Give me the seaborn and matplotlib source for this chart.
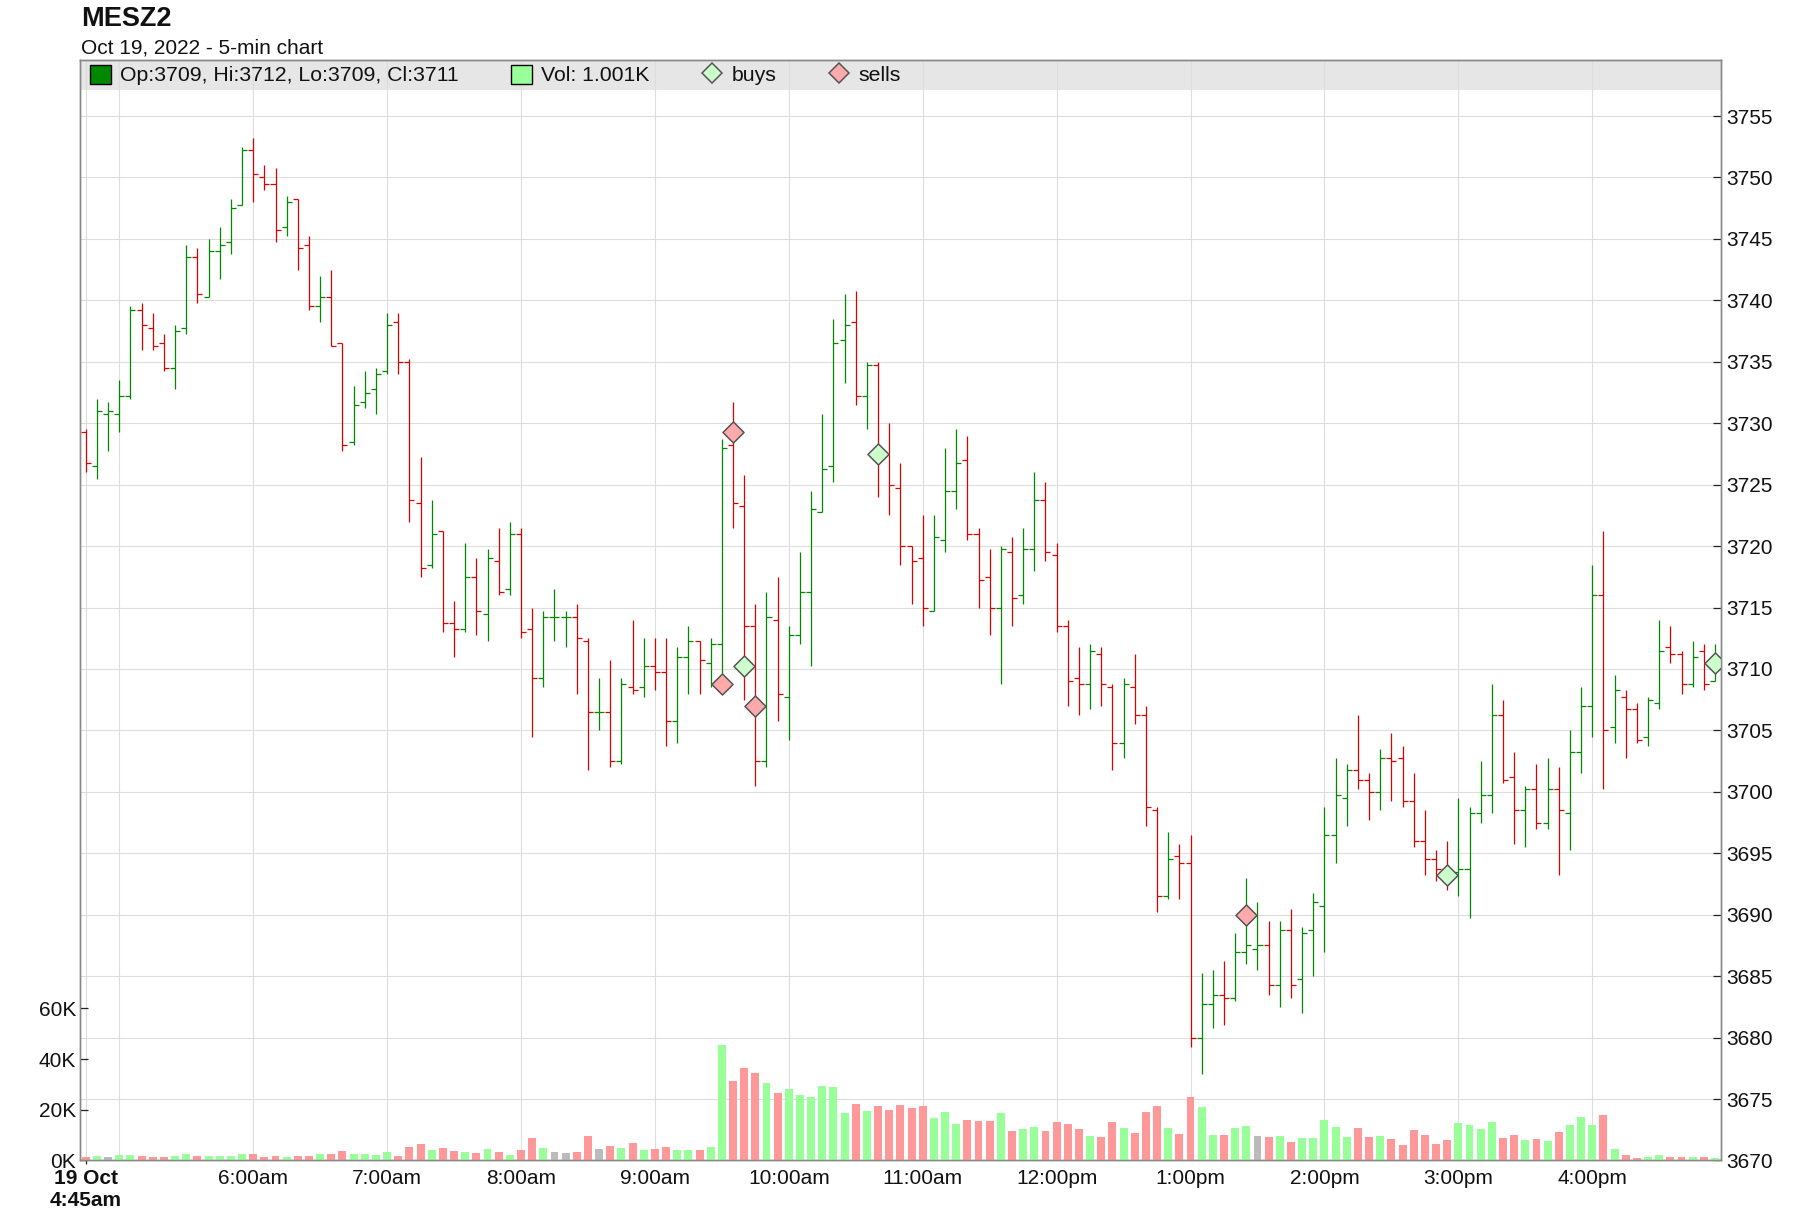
import numpy as np
import pandas as pd
import matplotlib
matplotlib.use('Agg')
import matplotlib.pyplot as plt
from matplotlib.patches import Rectangle, Patch
from matplotlib.lines import Line2D
import seaborn as sns

# chart text
symbol = 'MESZ2'
subtitle = 'Oct 19, 2022 - 5-min chart'
first_label = '19 Oct\n4:45am'

# 5-min OHLC bars, 4:45am .. 4:55pm
opens = [
    3729.25, 3726.5, 3730.75, 3730.75, 3732.25, 3739.25, 3737.75, 3736.5, 3734.5, 3737.75,
    3743.5, 3740.25, 3744.0, 3744.75, 3747.75, 3752.25, 3750.0, 3749.5, 3746.0, 3748.25,
    3744.5, 3739.5, 3740.25, 3736.5, 3728.5, 3731.75, 3732.75, 3734.25, 3738.25, 3735.0,
    3723.5, 3718.5, 3721.25, 3713.75, 3713.25, 3717.5, 3714.5, 3718.75, 3716.5, 3721.0,
    3713.25, 3709.25, 3714.25, 3714.25, 3714.25, 3712.25, 3706.5, 3706.5, 3702.5, 3708.5,
    3708.5, 3710.25, 3709.75, 3705.75, 3711.0, 3712.25, 3710.5, 3712.0, 3728.25, 3723.25,
    3713.5, 3702.5, 3714.0, 3707.75, 3712.75, 3716.25, 3722.75, 3726.5, 3736.75, 3738.25,
    3732.25, 3734.75, 3727.5, 3724.75, 3720.0, 3719.0, 3714.75, 3720.5, 3724.5, 3727.0,
    3721.0, 3717.5, 3715.0, 3719.5, 3716.0, 3719.75, 3723.75, 3719.25, 3713.5, 3709.25,
    3708.75, 3711.25, 3708.5, 3704.0, 3708.5, 3706.25, 3698.5, 3691.5, 3694.75, 3694.25,
    3680.0, 3682.75, 3683.5, 3683.25, 3687.0, 3687.25, 3687.5, 3684.25, 3688.75, 3684.75,
    3688.75, 3690.75, 3696.5, 3699.5, 3701.75, 3701.0, 3700.0, 3702.75, 3702.75, 3699.25,
    3696.0, 3694.5, 3693.75, 3693.5, 3693.75, 3698.25, 3699.75, 3706.25, 3701.25, 3698.5,
    3700.25, 3697.5, 3700.25, 3698.25, 3703.25, 3707.0, 3716.0, 3705.25, 3707.75, 3706.75,
    3704.5, 3707.25, 3711.75, 3711.25, 3708.75, 3711.5, 3709.0]
highs = [
    3729.5, 3732.0, 3731.75, 3733.5, 3739.5, 3739.75, 3739.0, 3737.25, 3738.0, 3744.5,
    3744.25, 3745.0, 3746.0, 3748.25, 3752.5, 3753.25, 3751.0, 3750.75, 3748.5, 3748.25,
    3745.25, 3742.0, 3742.5, 3736.5, 3733.0, 3734.25, 3734.5, 3739.0, 3739.0, 3735.25,
    3727.25, 3723.75, 3721.25, 3715.5, 3720.25, 3719.0, 3719.75, 3721.5, 3722.0, 3721.5,
    3715.0, 3714.75, 3716.5, 3714.75, 3715.25, 3712.5, 3709.25, 3710.75, 3709.25, 3714.0,
    3712.5, 3712.5, 3712.5, 3711.75, 3713.5, 3712.25, 3712.5, 3728.75, 3731.75, 3725.75,
    3715.25, 3716.25, 3717.5, 3713.5, 3719.5, 3724.5, 3730.75, 3738.5, 3740.5, 3740.75,
    3735.0, 3735.0, 3730.0, 3726.75, 3720.0, 3722.5, 3722.5, 3728.0, 3729.5, 3729.0,
    3721.5, 3719.75, 3720.0, 3720.75, 3721.5, 3726.0, 3725.25, 3720.25, 3714.0, 3711.75,
    3712.0, 3711.75, 3708.75, 3709.25, 3711.25, 3707.0, 3698.75, 3696.75, 3695.75, 3696.5,
    3685.25, 3685.5, 3686.25, 3688.5, 3693.0, 3691.0, 3689.5, 3689.5, 3690.5, 3689.0,
    3691.75, 3698.75, 3702.75, 3702.25, 3706.25, 3701.5, 3703.5, 3704.75, 3703.75, 3701.5,
    3698.5, 3695.25, 3696.0, 3699.5, 3698.75, 3702.5, 3708.75, 3707.5, 3703.25, 3700.5,
    3702.25, 3702.75, 3702.0, 3705.0, 3708.5, 3718.5, 3721.25, 3709.5, 3708.25, 3707.25,
    3707.75, 3714.0, 3713.5, 3711.5, 3712.25, 3712.0, 3712.0]
lows = [
    3726.0, 3725.5, 3727.75, 3729.25, 3732.0, 3736.0, 3736.0, 3734.25, 3732.75, 3737.25,
    3739.75, 3740.25, 3741.75, 3743.75, 3747.75, 3748.0, 3749.0, 3744.75, 3745.25, 3742.5,
    3739.25, 3738.25, 3736.25, 3727.75, 3728.25, 3731.25, 3730.75, 3734.0, 3734.0, 3722.0,
    3717.5, 3718.25, 3713.0, 3711.0, 3713.0, 3712.75, 3712.25, 3716.0, 3716.0, 3712.5,
    3704.5, 3708.5, 3712.25, 3711.75, 3708.0, 3701.75, 3705.0, 3702.0, 3702.25, 3708.0,
    3707.75, 3708.25, 3703.75, 3704.0, 3708.0, 3708.0, 3708.5, 3709.0, 3721.5, 3707.5,
    3700.5, 3702.0, 3705.75, 3704.25, 3712.0, 3710.25, 3722.75, 3725.25, 3733.25, 3731.5,
    3729.5, 3724.0, 3722.5, 3718.5, 3715.25, 3713.5, 3714.75, 3719.5, 3723.0, 3720.5,
    3715.0, 3712.75, 3708.75, 3713.5, 3715.25, 3718.0, 3718.75, 3713.0, 3707.0, 3706.25,
    3706.75, 3707.0, 3701.75, 3702.75, 3705.5, 3697.25, 3690.25, 3691.25, 3691.25, 3679.25,
    3677.0, 3680.75, 3681.0, 3683.0, 3686.0, 3685.5, 3683.5, 3682.5, 3683.25, 3682.0,
    3685.0, 3687.0, 3694.25, 3697.25, 3700.25, 3697.75, 3698.5, 3699.25, 3698.75, 3695.5,
    3693.25, 3692.75, 3692.0, 3691.5, 3689.75, 3697.5, 3698.25, 3700.75, 3695.75, 3695.5,
    3697.0, 3697.0, 3693.25, 3695.25, 3701.5, 3704.5, 3700.25, 3704.0, 3702.75, 3704.0,
    3703.75, 3706.75, 3710.5, 3708.0, 3708.5, 3708.25, 3709.0]
closes = [
    3726.75, 3731.0, 3731.0, 3732.25, 3739.25, 3738.0, 3736.25, 3734.5, 3737.5, 3743.5,
    3740.5, 3744.0, 3744.5, 3747.5, 3752.25, 3750.25, 3749.5, 3745.75, 3748.0, 3744.25,
    3739.5, 3740.25, 3736.25, 3728.25, 3731.5, 3732.5, 3734.0, 3738.0, 3735.0, 3723.75,
    3718.25, 3721.0, 3713.75, 3713.25, 3717.5, 3714.75, 3719.0, 3716.25, 3721.0, 3713.0,
    3709.25, 3714.25, 3714.25, 3714.25, 3712.5, 3706.5, 3706.5, 3702.5, 3708.75, 3708.25,
    3710.25, 3709.75, 3705.75, 3711.0, 3712.25, 3710.75, 3712.0, 3728.0, 3723.5, 3713.5,
    3702.5, 3714.25, 3708.0, 3712.75, 3716.25, 3723.0, 3726.25, 3736.5, 3738.0, 3732.25,
    3734.75, 3727.75, 3725.0, 3720.0, 3718.75, 3715.0, 3720.75, 3724.5, 3726.75, 3721.0,
    3717.25, 3715.0, 3719.75, 3715.75, 3719.75, 3723.75, 3719.5, 3713.5, 3709.0, 3708.75,
    3711.5, 3708.75, 3704.0, 3708.75, 3706.25, 3698.75, 3691.5, 3694.5, 3694.25, 3680.0,
    3682.75, 3683.5, 3683.25, 3687.0, 3687.5, 3687.5, 3684.25, 3688.75, 3684.25, 3688.5,
    3691.0, 3696.5, 3699.75, 3701.75, 3701.0, 3700.0, 3702.75, 3702.5, 3699.25, 3696.0,
    3694.5, 3693.75, 3693.5, 3693.75, 3698.25, 3699.75, 3706.25, 3701.0, 3698.5, 3700.25,
    3697.5, 3700.25, 3698.5, 3703.25, 3707.0, 3716.0, 3705.0, 3708.25, 3706.75, 3704.25,
    3707.5, 3711.5, 3711.25, 3708.75, 3711.0, 3708.75, 3711.0]
# volume in thousands of contracts
volume_k = [
    1.2, 1.6, 1.2, 2.0, 2.0, 1.6, 1.2, 1.2, 1.6, 2.4,
    1.6, 1.6, 1.6, 1.6, 2.4, 2.4, 1.2, 1.6, 1.2, 1.6,
    1.6, 2.4, 2.4, 3.6, 2.4, 2.4, 2.0, 3.2, 1.6, 5.2,
    6.4, 4.0, 4.8, 3.6, 3.2, 2.8, 4.4, 3.2, 2.0, 4.0,
    8.8, 4.8, 3.2, 2.8, 3.2, 9.6, 4.4, 5.6, 4.8, 6.8,
    4.0, 4.4, 5.2, 4.0, 4.0, 4.0, 5.2, 45.6, 31.2, 36.4,
    34.4, 30.4, 26.8, 28.0, 26.0, 25.2, 29.2, 28.8, 18.8, 22.4,
    19.6, 21.6, 20.0, 22.0, 20.8, 21.6, 16.8, 19.2, 14.4, 16.0,
    15.6, 15.6, 18.8, 11.6, 12.4, 13.2, 11.6, 15.2, 14.4, 12.4,
    9.6, 9.2, 15.2, 12.8, 10.8, 19.2, 21.6, 12.8, 10.4, 25.2,
    21.2, 10.0, 10.0, 12.8, 13.6, 9.6, 9.2, 9.6, 7.2, 8.8,
    8.8, 16.0, 13.2, 9.2, 12.8, 9.2, 9.6, 8.4, 6.0, 12.0,
    10.0, 6.4, 8.0, 14.8, 14.0, 12.4, 15.2, 8.8, 10.0, 8.0,
    8.4, 7.6, 11.2, 14.0, 17.2, 14.0, 18.0, 4.4, 2.0, 0.8,
    1.2, 2.0, 1.2, 1.2, 1.2, 1.2, 1.001]

# trade markers (bar index, price)
buy_bars = [59, 71, 122, 146]
buy_prices = [3710.25, 3727.5, 3693.25, 3710.5]
sell_bars = [57, 58, 60, 104]
sell_prices = [3708.75, 3729.25, 3707.0, 3690.0]

hour_ticks = [5, 6, 7, 8, 9, 10, 11, 12, 13, 14, 15, 16]
hour_labels = ['', '6:00am', '7:00am', '8:00am', '9:00am', '10:00am', '11:00am',
               '12:00pm', '1:00pm', '2:00pm', '3:00pm', '4:00pm']

df = pd.DataFrame({'open': opens, 'high': highs, 'low': lows,
                   'close': closes, 'vol': volume_k})
times = pd.date_range('2022-10-19 04:45', periods=len(df), freq='5min')
df['t'] = times.hour + times.minute / 60.0

GREEN, RED = '#008800', '#dd0000'
VGREEN, VRED, VGRAY = '#99ff99', '#ff9999', '#bbbbbb'

sns.set_theme(style='white')
plt.rcParams['font.family'] = ['Liberation Sans', 'DejaVu Sans']

fig = plt.figure(figsize=(18, 12.32), dpi=100)
ax = fig.add_axes([0.044722, 0.058036, 0.911222, 0.893263])
axv = ax.twinx()

bar_w = 1 / 12  # one 5-min bar in hours
ax.set_xlim(4.75 - 0.475 * bar_w, 4.75 + 146.51 * bar_w)
ax.set_ylim(3670, 3759.56)
axv.set_ylim(0, 433.8)

# grey legend band at the top of the plot
ax.add_patch(Rectangle((0, 0.97274), 1, 0.02726, transform=ax.transAxes,
                       facecolor='#e6e6e6', edgecolor='none', zorder=0.3))

ax.set_axisbelow(True)
ax.set_xticks(hour_ticks)
ax.set_xticklabels(hour_labels)
ax.set_xticks([4.75], minor=True)
ax.set_xticklabels([first_label], minor=True, fontweight='bold')
ax.grid(axis='x', which='both', color='#dddddd', lw=0.8)
ax.grid(axis='y', which='major', color='#dddddd', lw=0.8)

# OHLC bars
up = df['close'] >= df['open']
cols = np.where(up, GREEN, RED)
tick = 0.45 * bar_w
ax.vlines(df['t'], df['low'], df['high'], colors=cols, lw=0.9, zorder=2)
ax.hlines(df['open'], df['t'] - tick, df['t'], colors=cols, lw=0.9, zorder=2)
ax.hlines(df['close'], df['t'], df['t'] + tick, colors=cols, lw=0.9, zorder=2)

# volume coloured by change of close
chg = df['close'].diff()
chg.iloc[0] = df['close'].iloc[0] - df['open'].iloc[0]
vcols = np.where(chg > 0, VGREEN, np.where(chg < 0, VRED, VGRAY))
axv.bar(df['t'], df['vol'], width=0.71 * bar_w, color=vcols, lw=0)

# buys / sells
sns.scatterplot(x=df['t'].iloc[sell_bars].values, y=sell_prices, marker='D', s=115,
                color='#ffaaaa', edgecolor='#555555', linewidth=1.1, ax=ax,
                zorder=3, legend=False)
sns.scatterplot(x=df['t'].iloc[buy_bars].values, y=buy_prices, marker='D', s=115,
                color='#ccffcc', edgecolor='#555555', linewidth=1.1, ax=ax,
                zorder=3, legend=False)

# axes / ticks
ax.yaxis.tick_right()
ax.set_yticks(np.arange(3670, 3756, 5))
ax.set_yticklabels([f'{v:.0f}' for v in np.arange(3670, 3756, 5)])
ax.tick_params(axis='y', which='major', direction='in', length=5.8, width=0.9,
               color='#222222', pad=4.3, labelsize=15, right=True, left=False,
               labelright=True, labelleft=False, labelcolor='#111111')
ax.tick_params(axis='x', which='major', length=0, pad=5.9, labelsize=15,
               labelcolor='#111111')
ax.tick_params(axis='x', which='minor', direction='out', length=3.2, width=0.9,
               color='#222222', pad=2.7, labelsize=15, bottom=True,
               labelcolor='#111111')

axv.yaxis.tick_left()
axv.set_yticks([0, 20, 40, 60])
axv.set_yticklabels(['0K', '20K', '40K', '60K'])
axv.tick_params(axis='y', direction='in', length=5.4, width=0.9, color='#222222',
                pad=3.2, labelsize=15, left=True, right=False, labelleft=True,
                labelright=False, labelcolor='#111111')

for a in (ax, axv):
    for sp in a.spines.values():
        sp.set_color('#888888')
        sp.set_linewidth(1.0)

# titles
fig.text(80.7 / 1800, 1 - 26 / 1232, symbol, fontsize=19.5, fontweight='bold',
         ha='left', va='baseline', color='#111111')
fig.text(80.7 / 1800, 1 - 54 / 1232, subtitle, fontsize=15,
         ha='left', va='baseline', color='#111111')

# legend
last = df.iloc[-1]
labels = [f"Op:{last['open']:.0f}, Hi:{last['high']:.0f}, Lo:{last['low']:.0f}, Cl:{last['close']:.0f}",
          f"Vol: {last['vol']:.3f}K", 'buys', 'sells']
handles = [Patch(facecolor=GREEN, edgecolor='black', lw=1.0),
           Patch(facecolor=VGREEN, edgecolor='black', lw=1.0),
           Line2D([], [], ls='none', marker='D', ms=10, mfc='#ccffcc',
                  mec='#555555', mew=1.1),
           Line2D([], [], ls='none', marker='D', ms=10, mfc='#ffaaaa',
                  mec='#555555', mew=1.1)]
fig.legend(handles, labels, loc='center left',
           bbox_to_anchor=(90 / 1800, 1 - 75 / 1232), ncol=4, frameon=False,
           fontsize=15.3, handlelength=1.0, handleheight=1.0,
           handletextpad=0.42, columnspacing=2.45, borderpad=0,
           borderaxespad=0, labelcolor='#111111')

fig.savefig('out.png', dpi=100)
